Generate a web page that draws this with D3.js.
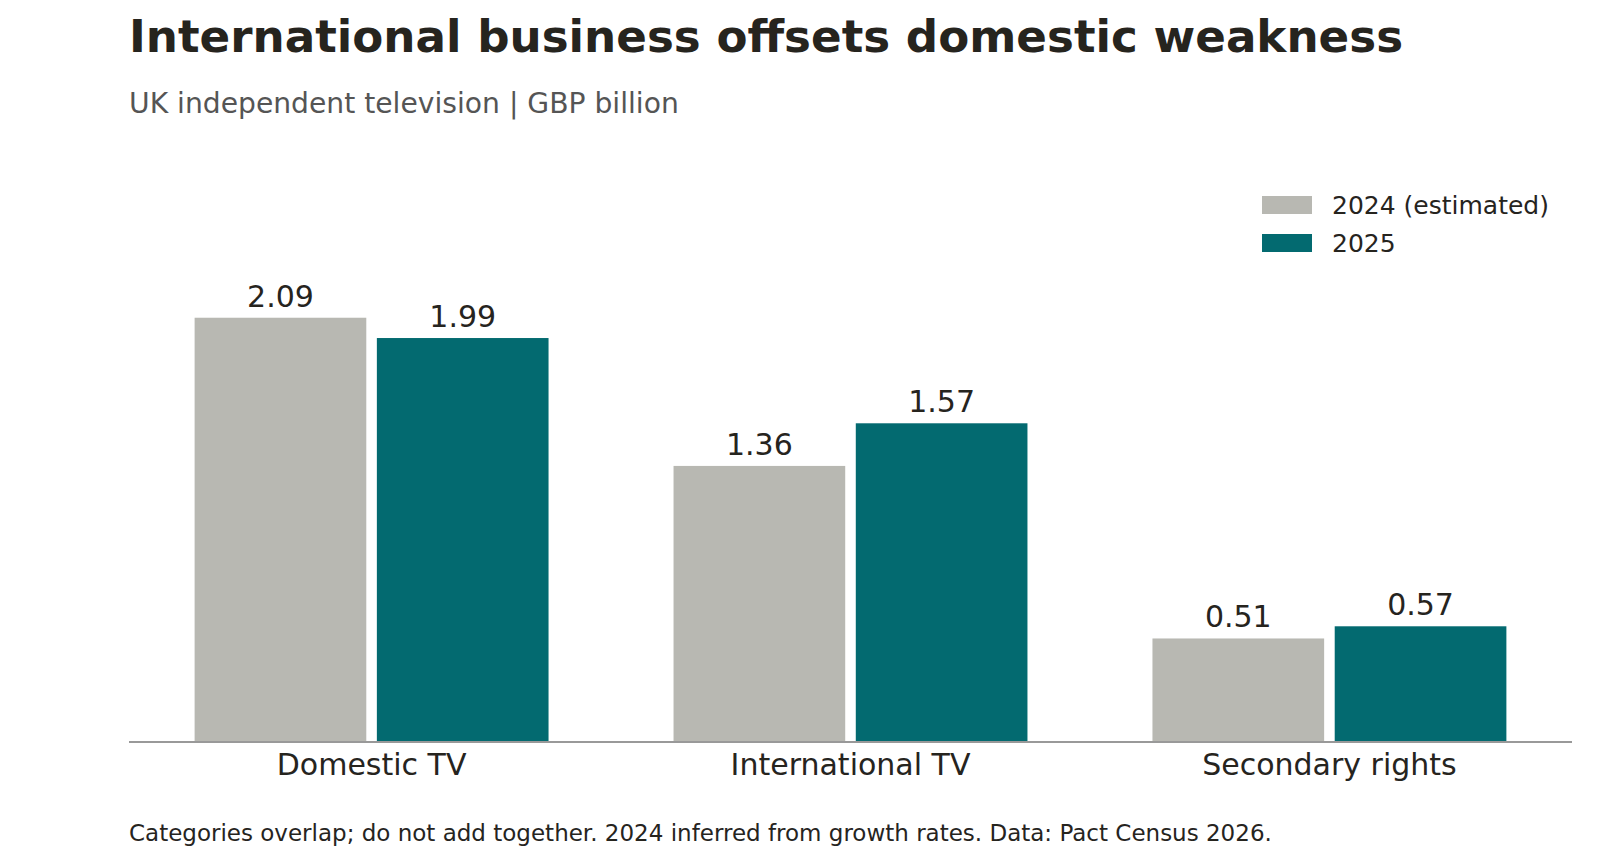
<!DOCTYPE html>
<html>
<head>
<meta charset="utf-8">
<script src="https://cdn.jsdelivr.net/npm/d3@7"></script>
<style>
  body { margin: 0; background: #fff; }
  svg { font-family: "DejaVu Sans", sans-serif; }
</style>
</head>
<body>
<svg id="chart" width="1620" height="864"></svg>
<script>
// Data
var categories = ["Domestic TV", "International TV", "Secondary rights"];
var seriesNames = ["2024 (estimated)", "2025"];
var values2024 = [2.09, 1.36, 0.51];
var values2025 = [1.99, 1.57, 0.57];
var seriesColors = ["#b8b8b2", "#036a70"];

// Layout
var svg = d3.select("#chart");
var margin = { left: 129, right: 48, base: 742 };
var width = 1620;

// Scales
var x = d3.scaleBand()
  .domain(categories)
  .range([margin.left, width - margin.right])
  .paddingInner(0.261)
  .paddingOuter(0.137);

var xIn = d3.scaleBand()
  .domain(seriesNames)
  .range([0, x.bandwidth()])
  .paddingInner(0.058);

var y = d3.scaleLinear()
  .domain([0, 2.4])
  .range([margin.base, margin.base - 2.4 * 203]);

// Title and subtitle
svg.append("text")
  .attr("x", 129).attr("y", 52)
  .attr("font-size", 45.2).attr("font-weight", "bold")
  .attr("fill", "#26241e")
  .text("International business offsets domestic weakness");

svg.append("text")
  .attr("x", 129).attr("y", 113)
  .attr("font-size", 28.2)
  .attr("fill", "#555555")
  .text("UK independent television | GBP billion");

// Build rows for bars
var rows = categories.map(function(c, i) {
  return { name: c, values: [
    { id: seriesNames[0], value: values2024[i], color: seriesColors[0] },
    { id: seriesNames[1], value: values2025[i], color: seriesColors[1] }
  ]};
});

var groups = svg.selectAll("g.element-group").data(rows).enter()
  .append("g").attr("class", "element-group")
  .attr("transform", function(d) { return "translate(" + x(d.name) + ",0)"; });

groups.selectAll("rect").data(function(d) { return d.values; }).enter()
  .append("rect")
  .attr("x", function(d) { return xIn(d.id); })
  .attr("y", function(d) { return y(d.value); })
  .attr("width", xIn.bandwidth())
  .attr("height", function(d) { return y(0) - y(d.value); })
  .attr("fill", function(d) { return d.color; });

// Value labels
groups.selectAll("text.label").data(function(d) { return d.values; }).enter()
  .append("text").attr("class", "label")
  .attr("x", function(d) { return xIn(d.id) + xIn.bandwidth() / 2; })
  .attr("y", function(d) { return y(d.value) - 11; })
  .attr("text-anchor", "middle")
  .attr("font-size", 30)
  .attr("fill", "#26241e")
  .text(function(d) { return d.value.toFixed(2); });

// X axis
var xAxis = svg.append("g")
  .attr("transform", "translate(0," + margin.base + ")")
  .call(d3.axisBottom(x).tickSize(0).tickPadding(12));
xAxis.select(".domain").attr("stroke", "#999999").attr("stroke-width", 2)
  .attr("d", "M" + margin.left + ",0H" + (width - margin.right));
xAxis.selectAll(".tick text")
  .attr("font-size", 30)
  .attr("font-family", "DejaVu Sans, sans-serif")
  .attr("fill", "#26241e");

// Legend
var legend = svg.append("g").attr("transform", "translate(1262,196)");
seriesNames.forEach(function(s, i) {
  legend.append("rect")
    .attr("x", 0).attr("y", i * 38)
    .attr("width", 50).attr("height", 18)
    .attr("fill", seriesColors[i]);
  legend.append("text")
    .attr("x", 70).attr("y", i * 38 + 18)
    .attr("font-size", 25)
    .attr("fill", "#26241e")
    .text(s);
});

// Footer
svg.append("text")
  .attr("x", 129).attr("y", 841)
  .attr("font-size", 23)
  .attr("fill", "#26241e")
  .text("Categories overlap; do not add together. 2024 inferred from growth rates. Data: Pact Census 2026.");
</script>
</body>
</html>
